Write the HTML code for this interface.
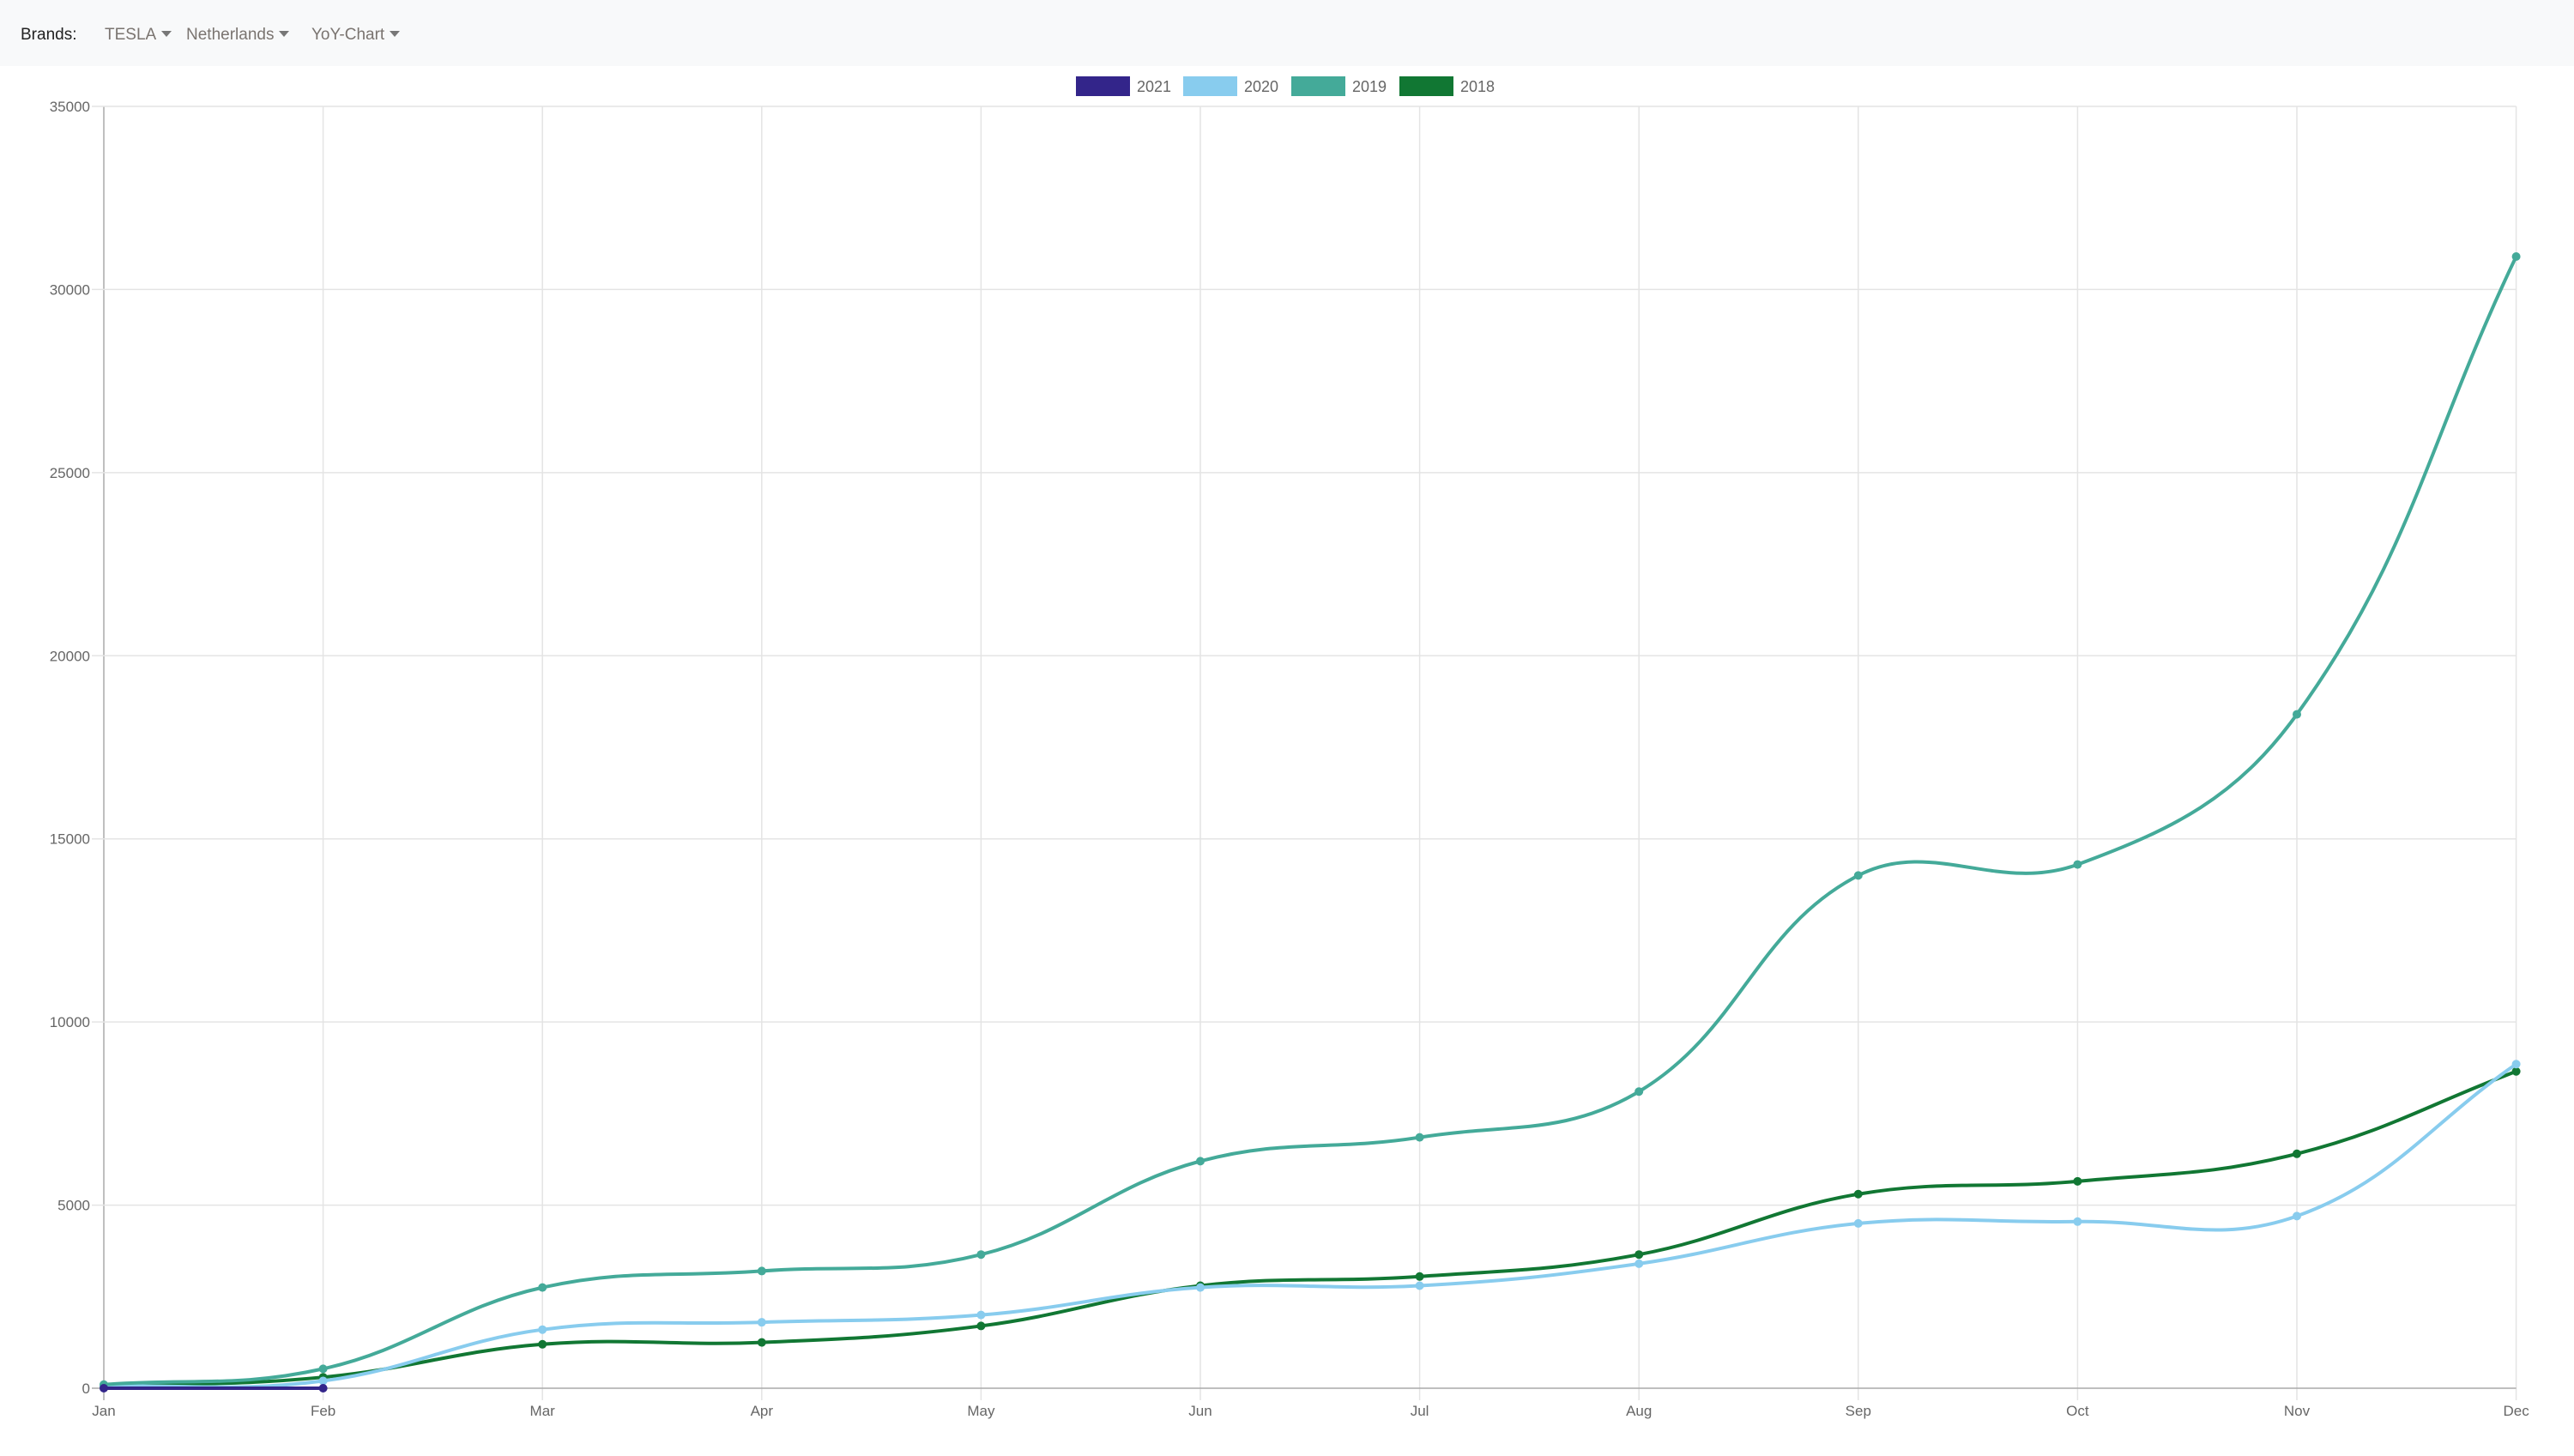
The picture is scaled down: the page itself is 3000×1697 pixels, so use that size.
<!DOCTYPE html>
<html><head><meta charset="utf-8"><style>
body{margin:0;width:3000px;height:1697px;background:#fff;overflow:hidden;font-family:"Liberation Sans",sans-serif}
.hdr{position:absolute;left:0;top:0;width:3000px;height:77px;background:#f8f9fa}
.hdr span{position:absolute;top:30px;font-size:19px;color:#7a7470}
.c{display:inline-block;width:0;height:0;border-left:6px solid transparent;border-right:6px solid transparent;border-top:7px solid #777;margin-left:6px;vertical-align:3px}
</style></head><body>
<div class="hdr">
<span style="left:24px;color:#222">Brands:</span>
<span style="left:122px">TESLA<i class="c"></i></span>
<span style="left:217px">Netherlands<i class="c"></i></span>
<span style="left:363px">YoY-Chart<i class="c"></i></span>
</div>
<svg id="s" width="3000" height="1697" style="position:absolute;left:0;top:0" font-family="Liberation Sans, sans-serif"></svg>
<script>
const s=document.getElementById('s');let h='';
const X0=121,DX=255.6,Y0=1618,YT=124,K=(Y0-YT)/35000;
const X=i=>X0+i*DX,Y=v=>Y0-v*K;
for(let i=0;i<12;i++){h+=`<line x1="${X(i)}" y1="${YT}" x2="${X(i)}" y2="${Y0+14}" stroke="${i?'#e4e4e4':'#aaa'}" stroke-width="1.5"/>`;}
const m=['Jan','Feb','Mar','Apr','May','Jun','Jul','Aug','Sep','Oct','Nov','Dec'];
m.forEach((t,i)=>h+=`<text x="${X(i)}" y="1650" font-size="17" fill="#666" text-anchor="middle">${t}</text>`);
for(let v=0;v<=35000;v+=5000){h+=`<line x1="${X0-14}" y1="${Y(v)}" x2="${X(11)}" y2="${Y(v)}" stroke="${v?'#e4e4e4':'#aaa'}" stroke-width="1.5"/><text x="${X0-16}" y="${Y(v)+6}" font-size="17" fill="#666" text-anchor="end">${v}</text>`;}
const ds=[
['#117733',[50,300,1200,1250,1700,2800,3050,3650,5300,5650,6400,8650]],
['#88ccee',[50,200,1600,1800,2000,2750,2800,3400,4500,4550,4700,8850]],
['#44aa99',[100,530,2750,3200,3650,6200,6850,8100,14000,14300,18400,30900]],
['#33258a',[0,0]]];
function path(p){const t=0.4,cp=[];for(let i=0;i<p.length;i++){const pr=p[i-1]||p[i],c=p[i],n=p[i+1]||p[i];
const d1=Math.hypot(c[0]-pr[0],c[1]-pr[1]),d2=Math.hypot(n[0]-c[0],n[1]-c[1]);let s1=d1/(d1+d2)||0,s2=d2/(d1+d2)||0;
cp.push([[c[0]-t*s1*(n[0]-pr[0]),c[1]-t*s1*(n[1]-pr[1])],[c[0]+t*s2*(n[0]-pr[0]),c[1]+t*s2*(n[1]-pr[1])]]);}
let d=`M${p[0]}`;for(let i=1;i<p.length;i++)d+=` C${cp[i-1][1]} ${cp[i][0]} ${p[i]}`;return d;}
ds.forEach(([c,v])=>{const p=v.map((y,i)=>[X(i),Y(y)]);h+=`<path d="${path(p)}" fill="none" stroke="${c}" stroke-width="4"/>`;p.forEach(q=>h+=`<circle cx="${q[0]}" cy="${q[1]}" r="5" fill="${c}"/>`);});
const lg=[['2021','#33258a',1254],['2020','#88ccee',1379],['2019','#44aa99',1505],['2018','#117733',1631]];
lg.forEach(([t,c,x])=>h+=`<rect x="${x}" y="89" width="63" height="23" fill="${c}"/><text x="${x+71}" y="107" font-size="18" fill="#666">${t}</text>`);
s.innerHTML=h;
</script>
</body></html>
